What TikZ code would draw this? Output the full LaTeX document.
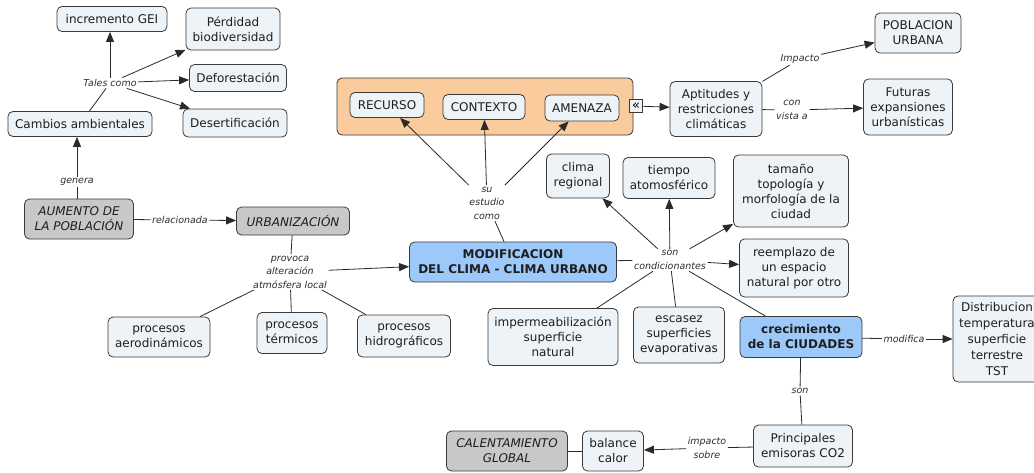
\documentclass[tikz,border=0pt]{standalone}
\usepackage{fontspec}
\setmainfont{DejaVu Sans}
\usetikzlibrary{arrows.meta}
\definecolor{boxc}{HTML}{EDF3F6}
\definecolor{grayc}{HTML}{C8C8C8}
\definecolor{bluec}{HTML}{9CC8FA}
\definecolor{orangec}{HTML}{FACB9C}
\definecolor{bordc}{HTML}{3A3A3A}
\definecolor{linec}{HTML}{2A2A2A}
\definecolor{txtc}{HTML}{1E1E1E}
\definecolor{labc}{HTML}{2E2E2E}
\newcommand\boxfont{\fontsize{12}{15}\selectfont}
\newcommand\labfont{\fontsize{9.5}{13.5}\selectfont}
\tikzset{
  box/.style={draw=bordc, fill=boxc, rounded corners=5pt, line width=0.8pt, align=center, font=\boxfont, inner sep=2pt, text=txtc},
  gbox/.style={box, fill=grayc, font=\boxfont\itshape},
  bbox/.style={box, fill=bluec, font=\boxfont\bfseries},
  lab/.style={font=\labfont\itshape, align=center, inner sep=1.5pt, text=labc},
  arr/.style={draw=linec, line width=0.8pt, -{Triangle[length=10pt,width=8pt]}},
  ln/.style={draw=linec, line width=0.8pt},
  sz/.style 2 args={minimum width=#1pt, minimum height=#2pt}
}
\begin{document}
\begin{tikzpicture}[x=1pt,y=-1pt]
\useasboundingbox (0,0) rectangle (1034,472);
\clip (0,0) rectangle (1034,472);
\fill[white] (0,0) rectangle (1034,472);
% container
\node[box, fill=orangec, sz={296}{57}] (grp) at (485,106.5) {};
% boxes
\node[box, sz={110}{25}] (gei) at (112,19) {incremento GEI};
\node[box, sz={94}{42}] (perd) at (233,29) {Pérdidad\\biodiversidad};
\node[box, sz={97}{27}] (defo) at (238,78) {Deforestación};
\node[box, sz={104}{28}] (dese) at (235,123) {Desertificación};
\node[box, sz={144}{25}] (camb) at (80,124) {Cambios ambientales};
\node[gbox, sz={109}{40}] (aum) at (79,219) {AUMENTO DE\\LA POBLACIÓN};
\node[gbox, sz={113}{28}] (urb) at (293,221) {URBANIZACIÓN};
\node[box, sz={102}{40}] (aero) at (159,337) {procesos\\aerodinámicos};
\node[box, sz={70}{41}] (term) at (292,333) {procesos\\térmicos};
\node[box, sz={93}{42}] (hidr) at (404,336) {procesos\\hidrográficos};
\node[bbox, sz={207}{40}] (mod) at (513,262) {MODIFICACION\\DEL CLIMA - CLIMA URBANO};
\node[box, sz={74}{25}] (rec) at (387,105) {RECURSO};
\node[box, sz={82}{25}] (ctx) at (484,107) {CONTEXTO};
\node[box, sz={74}{26}] (ame) at (582,108) {AMENAZA};
\node[draw=bordc, fill=boxc, line width=0.6pt, minimum width=13pt, minimum height=13pt, inner sep=0pt, font=\fontsize{13}{13}\selectfont] (exp) at (636,106) {«};
\node[box, sz={92}{55}] (apt) at (716,109) {Aptitudes y\\restricciones\\climáticas};
\node[box, sz={86}{40}] (pob) at (918,33) {POBLACION\\URBANA};
\node[box, sz={89}{56}] (fut) at (908,107) {Futuras\\expansiones\\urbanísticas};
\node[box, sz={63}{44}] (clim) at (578,176) {clima\\regional};
\node[box, sz={92}{41}] (tiem) at (669,178) {tiempo\\atomosférico};
\node[box, sz={115}{72}] (tam) at (791,191) {tamaño\\topología y\\morfología de la\\ciudad};
\node[box, sz={109}{58}] (reem) at (794,268) {reemplazo de\\un espacio\\natural por otro};
\node[box, sz={130}{57}] (imp) at (553,337) {impermeabilización\\superficie\\natural};
\node[box, sz={91}{56}] (esc) at (679,335) {escasez\\superficies\\evaporativas};
\node[bbox, sz={122}{41}] (crec) at (801,337) {crecimiento\\de la CIUDADES};
\node[box, sz={88}{86}, font=\fontsize{12}{16}\selectfont] (dist) at (997,339) {Distribucion\\temperatura\\superficie\\terrestre\\TST};
\node[box, sz={99}{42}] (prin) at (803,446) {Principales\\emisoras CO2};
\node[box, sz={61}{40}] (bal) at (613,451) {balance\\calor};
\node[gbox, sz={121}{40}] (cal) at (507,451) {CALENTAMIENTO\\GLOBAL};
% labels
\node[lab] (ltales) at (110,83) {Tales como};
\node[lab] (lgen) at (77,182) {genera};
\node[lab] (lrel) at (180,220) {relacionada};
\node[lab] (lprov) at (290,272) {provoca\\alteración\\atmósfera local};
\node[lab] (lsu) at (487,203) {su\\estudio\\como};
\node[lab] (limp) at (800,59) {Impacto};
\node[lab] (lcon) at (792,110) {con\\vista a};
\node[lab] (lson) at (670,260) {son\\condicionantes};
\node[lab] (lmod) at (904,339) {modifica};
\node[lab] (lson2) at (800,391) {son};
\node[lab] (limps) at (707,448) {impacto\\sobre};
% connectors
\draw[ln] (camb) -- (ltales);
\draw[arr] (ltales) -- (gei.south -| ltales);
\draw[arr] (ltales) -- (perd);
\draw[arr] (ltales) -- (defo);
\draw[arr] (ltales) -- (dese);
\draw[ln] (aum.north -| lgen) -- (lgen);
\draw[arr] (lgen) -- (camb.south -| lgen);
\draw[ln] (aum) -- (lrel);
\draw[arr] (lrel) -- (urb);
\draw[ln] (urb) -- (lprov);
\draw[arr] (lprov) -- (mod);
\draw[ln] (lprov) -- (aero);
\draw[ln] (lprov) -- (term);
\draw[ln] (lprov) -- (hidr);
\draw[ln] (mod) -- (lsu);
\draw[arr] (lsu) -- (rec);
\draw[arr] (lsu) -- (ctx);
\draw[arr] (lsu) -- (ame);
\draw[arr] (exp) -- (apt);
\draw[ln] (apt) -- (limp);
\draw[arr] (limp) -- (pob);
\draw[ln] (apt) -- (lcon);
\draw[arr] (lcon) -- (fut);
\draw[ln] (mod) -- (lson);
\draw[arr] (lson) -- (clim);
\draw[arr] (lson) -- (tiem);
\draw[arr] (lson) -- (tam);
\draw[arr] (lson) -- (reem);
\draw[ln] (lson) -- (imp);
\draw[ln] (lson) -- (esc);
\draw[ln] (lson) -- (crec);
\draw[ln] (crec) -- (lmod);
\draw[arr] (lmod) -- (dist);
\draw[ln] (crec) -- (lson2);
\draw[ln] (lson2) -- (prin);
\draw[ln] (prin) -- (limps);
\draw[arr] (limps) -- (bal);
\draw[ln] (cal) -- (bal);
\end{tikzpicture}
\end{document}
